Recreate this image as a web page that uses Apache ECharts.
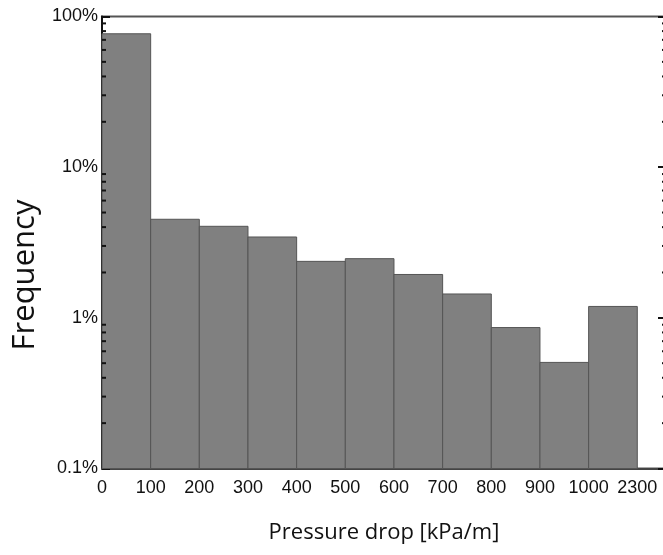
<!DOCTYPE html>
<html>
<head>
<meta charset="utf-8">
<script src="https://cdn.jsdelivr.net/npm/echarts@6/dist/echarts.min.js"></script>
<style>html,body{margin:0;padding:0;background:#fff;overflow:hidden}#c{width:672px;height:555px}</style>
</head>
<body>
<div id="c"></div>
<script>
// Bin edge labels (x axis)
const binEdges = ['0','100','200','300','400','500','600','700','800','900','1000','2300'];
// Frequency (%) per bin
const frequency = [76.8, 4.51, 4.05, 3.44, 2.37, 2.47, 1.94, 1.44, 0.862, 0.506, 1.19];
// Y axis tick labels
const yTicks = {0.1: '0.1%', 1: '1%', 10: '10%', 100: '100%'};
// Minor tick values on the log axis
const minorTicks = [0.2,0.3,0.4,0.5,0.6,0.7,0.8,0.9,2,3,4,5,6,7,8,9,20,30,40,50,60,70,80,90];

const X_MAX = 11.59;
const chart = echarts.init(document.getElementById('c'), null, {renderer: 'canvas', width: 672, height: 555});
const barData = frequency.map((v, i) => [i, v]);

chart.setOption({
  animation: false,
  grid: {left: 102, top: 16.5, width: 564, height: 452, show: true, borderColor: '#555', borderWidth: 2, backgroundColor: 'transparent'},
  xAxis: {
    type: 'value', min: 0, max: X_MAX, interval: 1,
    axisLine: {show: true, lineStyle: {color: '#444', width: 2}},
    axisTick: {show: false},
    splitLine: {show: false},
    axisLabel: {
      color: '#111', fontFamily: 'Liberation Sans', fontSize: 18, margin: 11,
      showMaxLabel: false,
      formatter: v => (Number.isInteger(v) && binEdges[v] !== undefined) ? binEdges[v] : ''
    }
  },
  yAxis: [{
    type: 'log', min: 0.1, max: 100, logBase: 10,
    axisLine: {show: true, lineStyle: {color: '#111', width: 2}},
    axisTick: {show: true, inside: true, length: 8, lineStyle: {color: '#111', width: 2}},
    splitLine: {show: false},
    axisLabel: {color: '#111', fontFamily: 'Liberation Sans', fontSize: 18, margin: 4,
      formatter: v => yTicks[+v.toPrecision(3)] || ''}
  }, {
    type: 'log', min: 0.1, max: 100, logBase: 10, position: 'right',
    axisLine: {show: false},
    axisTick: {show: true, inside: true, length: 8, lineStyle: {color: '#111', width: 2}},
    splitLine: {show: false},
    axisLabel: {show: false}
  }],
  graphic: [
    {type: 'text', x: 384, y: 533, style: {text: 'Pressure drop [kPa/m]', font: '22px "Open Sans"', fill: '#111', textAlign: 'center', textVerticalAlign: 'middle'}},
    {type: 'text', x: 25, y: 275, rotation: Math.PI / 2, style: {text: 'Frequency', font: '31px "Open Sans"', fill: '#111', textAlign: 'center', textVerticalAlign: 'middle'}}
  ],
  series: [{
    type: 'custom',
    coordinateSystem: 'cartesian2d',
    data: barData,
    renderItem: (params, api) => {
      const i = api.value(0), v = api.value(1);
      const p0 = api.coord([i, v]);
      const p1 = api.coord([i + 1, 0.1]);
      return {type: 'rect', shape: {x: p0[0], y: p0[1], width: p1[0] - p0[0], height: p1[1] - p0[1]},
        style: {fill: '#808080', stroke: '#555', lineWidth: 1}};
    }
  }, {
    type: 'custom',
    coordinateSystem: 'cartesian2d',
    data: minorTicks.map(v => [0, v]),
    silent: true,
    z: 5,
    renderItem: (params, api) => {
      const v = api.value(1);
      const pl = api.coord([0, v]);
      const pr = api.coord([X_MAX, v]);
      return {type: 'group', children: [
        {type: 'line', shape: {x1: pl[0], y1: pl[1], x2: pl[0] + 4, y2: pl[1]}, style: {stroke: '#111', lineWidth: 2}},
        {type: 'line', shape: {x1: pr[0], y1: pr[1], x2: pr[0] - 4, y2: pr[1]}, style: {stroke: '#111', lineWidth: 2}}
      ]};
    }
  }]
});
</script>
</body>
</html>
